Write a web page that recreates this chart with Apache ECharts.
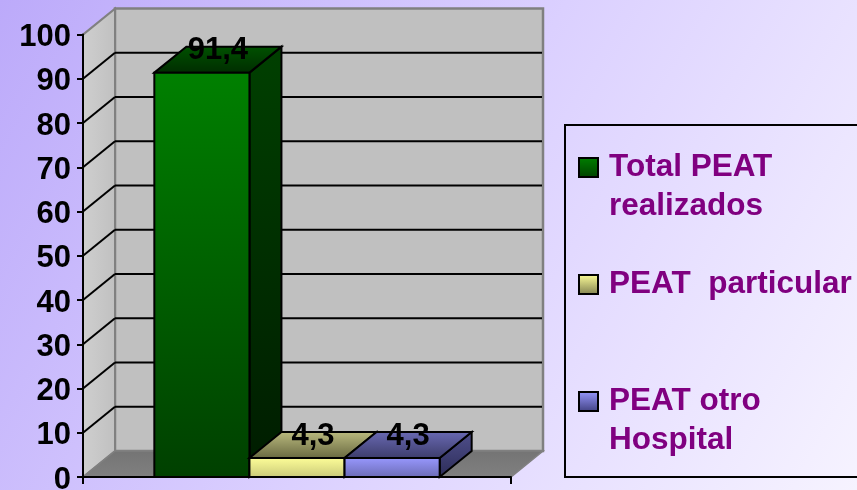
<!DOCTYPE html>
<html><head><meta charset="utf-8">
<style>html,body{margin:0;padding:0;background:#e6deff}#c{width:857px;height:490px}</style>
<script src="https://cdn.jsdelivr.net/npm/echarts@6/dist/echarts.min.js"></script>
</head><body><div id="c"></div>
<script>
const categories = [''];
const seriesNames = ['Total PEAT realizados', 'PEAT  particular', 'PEAT otro Hospital'];
const totalPeat = [91.4];
const peatParticular = [4.3];
const peatOtroHospital = [4.3];
const gridValues = [10,20,30,40,50,60,70,80,90];
const legendLabels = [' \nTotal PEAT\nrealizados', 'PEAT  particular', ' \nPEAT otro\nHospital'];

const FONT = '"Liberation Sans", Arial, sans-serif';
const DX = 32, DY = 26;
const vgrad = (a, b) => ({type:'linear', x:0, y:0, x2:0, y2:1, colorStops:[{offset:0,color:a},{offset:1,color:b}]});
const looks = [
  {front:['#008000','#004000'], top:['#005200','#002c00'], side:['#004000','#001c00'], legend:['#008000','#004000']},
  {front:['#ffff99','#c8c878'], top:['#bcbc80','#67673f'], side:['#808050','#404028'], legend:['#ffff99','#808050']},
  {front:['#9999ff','#6a6ab4'], top:['#6a6ab4','#3c3c6a'], side:['#50508c','#2c2c58'], legend:['#9999ff','#404080']}
];

function poly(points, fill, stroke, lineWidth){
  return {type:'polygon', shape:{points}, style:{fill, stroke:stroke||'#000', lineWidth:lineWidth==null?2:lineWidth, lineJoin:'miter'}};
}
function line(a, b, color, w){
  return {type:'line', shape:{x1:a[0],y1:a[1],x2:b[0],y2:b[1]}, style:{stroke:color,lineWidth:w}};
}
function renderWalls(params, api){
  const half = api.size([1,0])[0] / 2;
  const cx = api.coord([0,0])[0];
  const L = cx - half, R = cx + half;
  const y0 = api.coord([0,0])[1], y100 = api.coord([0,100])[1];
  const kids = [
    poly([[L+DX,y100-DY],[R+DX,y100-DY],[R+DX,y0-DY],[L+DX,y0-DY]], '#c0c0c0', '#808080', 2.5),
    poly([[L,y100],[L+DX,y100-DY],[L+DX,y0-DY],[L,y0]], {type:'linear',x:0,y:0,x2:1,y2:0,colorStops:[{offset:0,color:'#cfcfcf'},{offset:1,color:'#c0c0c0'}]}, '#808080', 2),
    poly([[L,y0],[L+DX,y0-DY],[R+DX,y0-DY],[R,y0]], vgrad('#747474','#808080'), '#808080', 1.5)
  ];
  gridValues.forEach(v => {
    const y = api.coord([0,v])[1];
    kids.push(line([L,y],[L+DX,y-DY],'#000',2));
    kids.push(line([L+DX,y-DY],[R+DX-1,y-DY],'#000',2));
  });
  return {type:'group', children:kids};
}
function barRenderer(index){
  return function(params, api){
    const val = api.value(1);
    const band = api.size([1,0])[0];
    const w = band / 4.5;
    const base = api.coord([api.value(0),0]);
    const topP = api.coord([api.value(0),val]);
    const x1 = base[0] - 1.5*w + index*w, x2 = x1 + w;
    const y0 = base[1], yT = topP[1];
    const c = looks[index];
    return {type:'group', children:[
      poly([[x2,yT],[x2+DX,yT-DY],[x2+DX,y0-DY],[x2,y0]], vgrad(c.side[0],c.side[1])),
      poly([[x1,yT],[x1+DX,yT-DY],[x2+DX,yT-DY],[x2,yT]], vgrad(c.top[0],c.top[1])),
      poly([[x1,yT],[x2,yT],[x2,y0],[x1,y0]], vgrad(c.front[0],c.front[1])),
      {type:'text', z2:50, style:{text:String(val).replace('.',','), x:(x1+x2)/2+DX/2, y:yT-DY+4, align:'center', verticalAlign:'middle',
        fontFamily:FONT, fontWeight:'bold', fontSize:31, fill:'#000'}}
    ]};
  };
}
const legendTops = [109, 265, 343];
const legends = seriesNames.map((name,i) => ({
  left: 578, top: legendTops[i], orient:'vertical', padding:0, itemWidth:19, itemHeight:19, icon:'rect', selectedMode:false,
  data:[{name, itemStyle:{color:vgrad(looks[i].legend[0],looks[i].legend[1]), borderColor:'#000', borderWidth:2}}],
  formatter:() => legendLabels[i],
  textStyle:{color:'#800080', fontFamily:FONT, fontWeight:'bold', fontSize:31.5, lineHeight:39, padding:[0,0,0,6]}
}));
const values = [totalPeat, peatParticular, peatOtroHospital];
const chart = echarts.init(document.getElementById('c'), null, {renderer:'canvas'});
chart.setOption({
  animation:false,
  backgroundColor:{type:'linear',x:0,y:0,x2:1,y2:1,colorStops:[{offset:0,color:'#bcaafa'},{offset:0.5,color:'#dbd0ff'},{offset:1,color:'#f6f3ff'}]},
  grid:{left:83, top:34.6, width:428, height:442.4, containLabel:false, outerBoundsMode:'none'},
  xAxis:{type:'category', data:categories, z:5,
    axisLine:{lineStyle:{color:'#000',width:2}}, axisTick:{show:true,length:7,lineStyle:{color:'#000',width:2}}, axisLabel:{show:false}, splitLine:{show:false}},
  yAxis:{type:'value', min:0, max:100, interval:10, z:5,
    axisLine:{show:true,lineStyle:{color:'#000',width:2}}, axisTick:{show:true,length:6,lineStyle:{color:'#000',width:2}},
    axisLabel:{color:'#000',fontFamily:FONT,fontWeight:'bold',fontSize:31,margin:12,verticalAlign:'top',lineHeight:6}, splitLine:{show:false}},
  legend:legends,
  graphic:[{type:'rect', z:0, shape:{x:565,y:125,width:320,height:352}, style:{fill:'transparent',stroke:'#000',lineWidth:2}}],
  series:[
    {type:'custom', name:'walls', renderItem:renderWalls, data:[[0,0]], encode:{x:0,y:1}, silent:true, z:1},
    ...seriesNames.map((name,i) => ({
      type:'custom', name, renderItem:barRenderer(i), z:2+i, encode:{x:0,y:1},
      data:values[i].map((v,k)=>[k,v])
    }))
  ]
});
</script></body></html>
